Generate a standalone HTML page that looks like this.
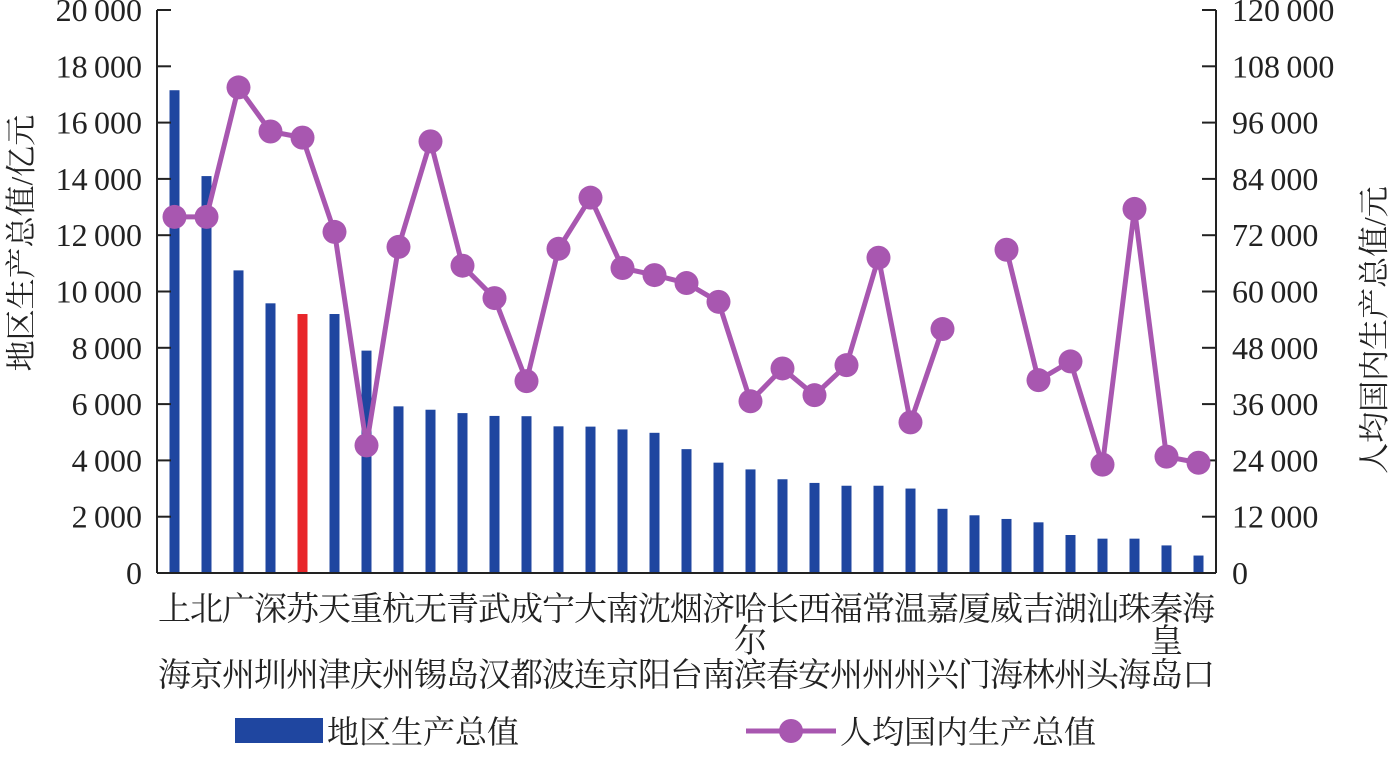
<!DOCTYPE html>
<html><head><meta charset="utf-8"><style>
body{margin:0;background:#fff}
svg text{font-family:"Liberation Serif","Noto Serif CJK SC",serif;fill:#222}
</style></head><body>
<svg width="1392" height="752" viewBox="0 0 1392 752" xmlns="http://www.w3.org/2000/svg">
<g id="chart"></g>
</svg>
<script>
(function(){
const g=document.getElementById('chart');
const NS='http://www.w3.org/2000/svg';
function el(t,a,txt){const e=document.createElementNS(NS,t);for(const k in a)e.setAttribute(k,a[k]);if(txt!=null)e.textContent=txt;g.appendChild(e);return e;}
const yTop=10,bot=573,H=bot-yTop;
const top1=["上","北","广","深","苏","天","重","杭","无","青","武","成","宁","大","南","沈","烟","济","哈","长","西","福","常","温","嘉","厦","威","吉","湖","汕","珠","秦","海"];
const bot1=["海","京","州","圳","州","津","庆","州","锡","岛","汉","都","波","连","京","阳","台","南","滨","春","安","州","州","州","兴","门","海","林","州","头","海","岛","口"];
const gdp=[17150,14100,10750,9580,9200,9200,7900,5920,5800,5680,5580,5570,5210,5200,5100,4980,4400,3920,3680,3330,3200,3100,3100,3000,2280,2050,1920,1800,1350,1220,1220,980,620];
const pc=[75900,75900,103500,94100,92800,72700,27200,69500,92000,65500,58600,40900,69100,80000,65000,63500,61800,57800,36600,43600,37900,44300,67200,32100,52000,null,68900,41100,45100,23100,77600,24800,23500];
const x0=174.5,dx=32;
gdp.forEach((v,i)=>{const h=v/20000*H;el('rect',{x:x0+i*dx-5,y:bot-h,width:10,height:h,fill:i==4?'#e8262a':'#1f46a0'});});
el('line',{x1:157,y1:yTop,x2:157,y2:bot,stroke:'#222','stroke-width':2});
el('line',{x1:1216,y1:yTop,x2:1216,y2:bot,stroke:'#222','stroke-width':2});
el('line',{x1:157,y1:bot,x2:1216,y2:bot,stroke:'#222','stroke-width':2});
const fmt=n=>n>=1000?Math.floor(n/1000)+'\u2009'+String(n%1000).padStart(3,'0'):String(n);
for(let i=0;i<=10;i++){const y=bot-i*H/10;
 el('line',{x1:157,y1:y,x2:171,y2:y,stroke:'#222','stroke-width':2});
 el('line',{x1:1202,y1:y,x2:1216,y2:y,stroke:'#222','stroke-width':2});
 el('text',{x:142,y:y+11,'font-size':32,'text-anchor':'end'},fmt(i*2000));
 el('text',{x:1232,y:y+11,'font-size':32},fmt(i*12000));
}
let seg=[];const segs=[];
pc.forEach((v,i)=>{if(v==null){segs.push(seg);seg=[];}else seg.push([x0+i*dx,bot-v/120000*H]);});segs.push(seg);
segs.forEach(s=>{if(s.length>1)el('polyline',{points:s.map(p=>p.join(',')).join(' '),fill:'none',stroke:'#a857b0','stroke-width':5});});
segs.forEach(s=>s.forEach(p=>el('circle',{cx:p[0],cy:p[1],r:12,fill:'#a857b0'})));
top1.forEach((c,i)=>el('text',{x:x0+i*dx,y:620,'font-size':33,'text-anchor':'middle'},c));
el('text',{x:x0+18*dx,y:652,'font-size':33,'text-anchor':'middle'},'尔');
el('text',{x:x0+31*dx,y:652,'font-size':33,'text-anchor':'middle'},'皇');
bot1.forEach((c,i)=>el('text',{x:x0+i*dx,y:686,'font-size':33,'text-anchor':'middle'},c));
el('text',{x:0,y:0,'font-size':31,'text-anchor':'middle',transform:'translate(32,243) rotate(-90)'},'地区生产总值/亿元');
el('text',{x:0,y:0,'font-size':31,'text-anchor':'middle',transform:'translate(1385,330) rotate(-90)'},'人均国内生产总值/元');
el('rect',{x:235,y:718,width:88,height:25,fill:'#1f46a0'});
el('text',{x:327,y:743,'font-size':32},'地区生产总值');
el('line',{x1:746,y1:731,x2:836,y2:731,stroke:'#a857b0','stroke-width':5});
el('circle',{cx:791,cy:731,r:12,fill:'#a857b0'});
el('text',{x:840,y:743,'font-size':32},'人均国内生产总值');
})();
</script>
</body></html>
